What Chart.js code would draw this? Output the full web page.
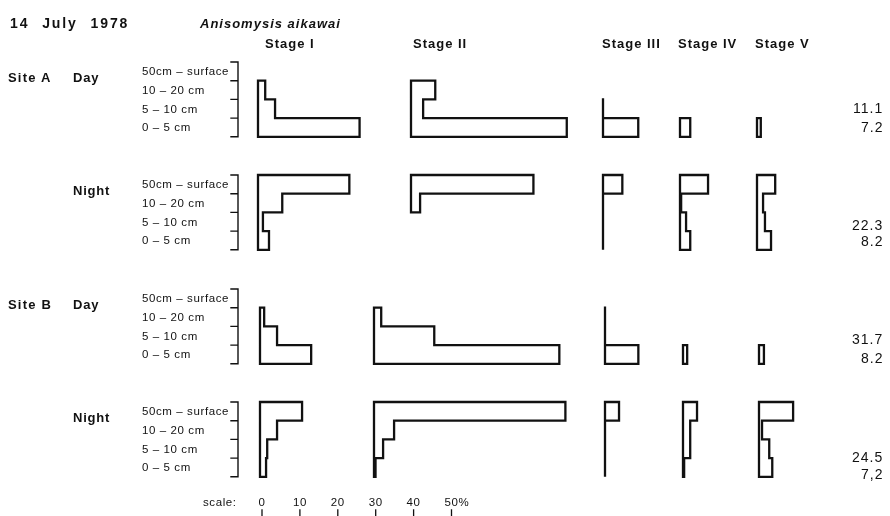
<!DOCTYPE html>
<html><head><meta charset="utf-8">
<script src="https://cdn.jsdelivr.net/npm/chart.js@4/dist/chart.umd.min.js"></script>
<style>
html,body{margin:0;padding:0;background:#fff;}
#wrap{position:relative;width:890px;height:516px;overflow:hidden;font-family:"Liberation Sans",Arial,sans-serif;color:#111;}
#c{position:absolute;left:0;top:0;}
.t{position:absolute;white-space:nowrap;line-height:1;}
.b{font-weight:bold;font-size:14px;letter-spacing:0.6px;}
.d{font-size:11.5px;letter-spacing:0.6px;}
.n{font-size:14px;letter-spacing:1px;}
</style></head><body>
<div id="wrap"><canvas id="c" width="890" height="516"></canvas></div>
<script>
// ---------- DATA ----------
const dateLabel = "14 July 1978";
const speciesLabel = "Anisomysis aikawai";
const stages = ["Stage I", "Stage II", "Stage III", "Stage IV", "Stage V"];
const depthLabels = ["50cm – surface", "10 – 20 cm", "5 – 10 cm", "0 – 5 cm"];
const rowSites = ["Site A", "", "Site B", ""];
const rowTimes = ["Day", "Night", "Day", "Night"];
// % per depth layer [50cm-surface, 10-20cm, 5-10cm, 0-5cm]; null = not recorded
const siteADay = [
  [null, 1.9, 4.5, 26.8],
  [null, 6.4, 3.2, 41.1],
  [null, null, 0, 9.3],
  [null, null, null, 2.7],
  [null, null, null, 1.0]
];
const siteANight = [
  [24.1, 6.4, 1.3, 2.9],
  [32.3, 2.4, null, null],
  [5.1, 0, 0, 0],
  [7.4, 0.3, 1.6, 2.7],
  [4.8, 1.6, 2.1, 3.7]
];
const siteBDay = [
  [null, 1.1, 4.5, 13.5],
  [null, 1.9, 15.9, 48.9],
  [null, 0, 0, 8.8],
  [null, null, null, 1.1],
  [null, null, null, 1.3]
];
const siteBNight = [
  [11.1, 4.5, 1.9, 1.6],
  [50.5, 5.3, 2.4, 0.4],
  [3.7, 0, 0, 0],
  [3.7, 1.9, 1.9, 0.3],
  [9.0, 0.8, 2.7, 3.5]
];
const rowTotals = [["11.1", "7.2"], ["22.3", "8.2"], ["31.7", "8.2"], ["24.5", "7,2"]];
const scaleTicks = [0, 10, 20, 30, 40, 50];
const scaleTickLabels = ["0", "10", "20", "30", "40", "50%"];

// ---------- LAYOUT ----------
const rows = [siteADay, siteANight, siteBDay, siteBNight];
const PX_PER_PCT = 3.79;
const LAYER_PX = 18.7;
const TOP0 = 62;
const rowTopPx = [62, 175, 289, 402];
const stageBasePx = [[258, 411, 603, 680, 757], [258, 411, 603, 680, 757], [260, 374, 605, 683, 759], [260, 374, 605, 683, 759]];
const bracketPx = [231, 238];
const scaleOriginPx = 262;
const scaleTickPx = [510, 517];
const stageTitlePx = [265, 413, 602, 678, 755];
const totalsYPx = [[108, 127], [225, 241], [339, 358], [457, 474]];
const X = px => px / PX_PER_PCT;
const Y = px => (px - TOP0) / LAYER_PX;
const INK = "#111";

function outline(vals, base, top) {
  const idx = vals.map((v, i) => v === null ? -1 : i).filter(i => i >= 0);
  if (!idx.length) return [];
  const first = idx[0], last = idx[idx.length - 1];
  const pts = [{x: base, y: top + first}];
  for (let i = first; i <= last; i++) {
    const v = vals[i] === null ? 0 : vals[i];
    pts.push({x: base + v, y: top + i});
    pts.push({x: base + v, y: top + i + 1});
  }
  pts.push({x: base, y: top + last + 1});
  pts.push({x: base, y: top + first});
  return pts;
}

const datasets = [];
rows.forEach((row, r) => {
  const top = Y(rowTopPx[r]);
  row.forEach((vals, s) => {
    datasets.push({data: outline(vals, X(stageBasePx[r][s]), top)});
  });
  // bracket "]"
  const a = X(bracketPx[0]), b = X(bracketPx[1]);
  const br = [{x: a, y: top}, {x: b, y: top}, {x: b, y: top + 4}, {x: a, y: top + 4}];
  for (let k = 1; k < 4; k++) {
    br.push({x: a, y: null});
    br.push({x: a, y: top + k});
    br.push({x: b, y: top + k});
  }
  datasets.push({data: br, borderWidth: 1.4});
});
// scale bar ticks
const sb = [];
scaleTicks.forEach((t, i) => {
  if (i) sb.push({x: 0, y: null});
  sb.push({x: X(scaleOriginPx) + t, y: Y(scaleTickPx[0])});
  sb.push({x: X(scaleOriginPx) + t, y: Y(scaleTickPx[1])});
});
datasets.push({data: sb, borderWidth: 1.3});

const chart = new Chart(document.getElementById('c'), {
  type: 'scatter',
  data: {datasets: datasets.map(d => Object.assign({
    showLine: true, borderColor: INK, borderWidth: 2.3, pointRadius: 0,
    tension: 0, spanGaps: false, borderJoinStyle: 'miter', borderCapStyle: 'square', fill: false
  }, d))},
  options: {
    responsive: false, animation: false, events: [],
    layout: {padding: 0},
    plugins: {legend: {display: false}, tooltip: {enabled: false}},
    scales: {
      x: {type: 'linear', display: false, min: 0, max: 890 / PX_PER_PCT},
      y: {type: 'linear', display: false, reverse: true, min: Y(0), max: Y(516)}
    }
  }
});

// ---------- TEXT ----------
const wrap = document.getElementById('wrap');
const xs = chart.scales.x, ys = chart.scales.y;
function label(text, x, y, cls, align, extra) {
  const d = document.createElement('div');
  d.className = 't ' + cls;
  d.textContent = text;
  if (extra) Object.assign(d.style, extra);
  wrap.appendChild(d);
  const w = d.offsetWidth, h = d.offsetHeight;
  let left = x;
  if (align === 'center') left = x - w / 2;
  else if (align === 'right') left = x - w;
  d.style.left = left + 'px';
  d.style.top = (y - h / 2) + 'px';
  return d;
}
label(dateLabel, 10, 23, 'b', 'left', {wordSpacing: '7px', letterSpacing: '1.9px'});
label(speciesLabel, 200, 23, 'b', 'left', {fontStyle: 'italic', fontSize: '13px', letterSpacing: '1px'});
stages.forEach((s, i) => label(s, stageTitlePx[i], 43, 'b', 'left', {fontSize: '13px', letterSpacing: '1px'}));
rows.forEach((row, r) => {
  const top = Y(rowTopPx[r]);
  const ly = ys.getPixelForValue(top + 0.85);
  if (rowSites[r]) label(rowSites[r], 8, ly, 'b', 'left', {fontSize: '13px', letterSpacing: '1.2px'});
  label(rowTimes[r], 73, ly, 'b', 'left', {fontSize: '13px', letterSpacing: '0.8px'});
  depthLabels.forEach((t, k) => {
    label(t, 142, ys.getPixelForValue(top + k + 0.55), 'd', 'left');
  });
  rowTotals[r].forEach((t, k) => label(t, 883, totalsYPx[r][k], 'n', 'right'));
});
label("scale:", 203, 503, 'd', 'left');
scaleTicks.forEach((t, i) => {
  const px = xs.getPixelForValue(X(scaleOriginPx) + t);
  if (i === scaleTicks.length - 1) label(scaleTickLabels[i], px - 7, 503, 'd', 'left');
  else label(scaleTickLabels[i], px, 503, 'd', 'center');
});
</script>
</body></html>
